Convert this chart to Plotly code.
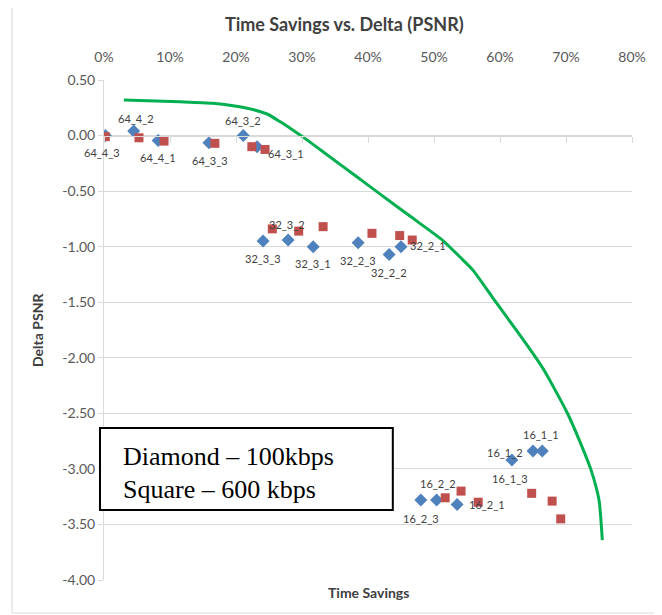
import plotly.graph_objects as go

# ---- data ----
diamond_names = ["64_4_3", "64_4_2", "64_4_1", "64_3_3", "64_3_2", "64_3_1",
                 "32_3_3", "32_3_2", "32_3_1", "32_2_3", "32_2_2", "32_2_1",
                 "16_1_3", "16_1_2", "16_1_1", "16_2_3", "16_2_2", "16_2_1"]
diamond_x = [0.002, 0.045, 0.082, 0.159, 0.211, 0.232,
             0.241, 0.279, 0.317, 0.385, 0.432, 0.450,
             0.618, 0.650, 0.664, 0.480, 0.504, 0.535]
diamond_y = [0.00, 0.04, -0.045, -0.065, 0.00, -0.10,
             -0.95, -0.94, -1.00, -0.965, -1.07, -1.00,
             -2.92, -2.84, -2.84, -3.28, -3.28, -3.32]

square_x = [0.002, 0.053, 0.091, 0.168, 0.224, 0.244,
            0.255, 0.295, 0.332, 0.406, 0.448, 0.467,
            0.517, 0.541, 0.567, 0.648, 0.679, 0.692]
square_y = [-0.01, -0.02, -0.05, -0.07, -0.10, -0.125,
            -0.84, -0.86, -0.82, -0.88, -0.90, -0.94,
            -3.26, -3.20, -3.30, -3.22, -3.29, -3.45]

curve_x = [0.030, 0.115, 0.165, 0.217, 0.247, 0.267, 0.286, 0.308, 0.340,
           0.380, 0.420, 0.464, 0.514, 0.539, 0.559, 0.589, 0.615, 0.641,
           0.665, 0.702, 0.722, 0.738, 0.750, 0.755]
curve_y = [0.320, 0.304, 0.290, 0.245, 0.194, 0.124, 0.050, -0.041, -0.182,
           -0.358, -0.534, -0.727, -0.947, -1.091, -1.211, -1.460, -1.672,
           -1.887, -2.095, -2.497, -2.768, -3.011, -3.281, -3.641]

x_tickvals = [0.0, 0.1, 0.2, 0.3, 0.4, 0.5, 0.6, 0.7, 0.8]
x_ticktext = ["0%", "10%", "20%", "30%", "40%", "50%", "60%", "70%", "80%"]
y_tickvals = [0.5, 0.0, -0.5, -1.0, -1.5, -2.0, -2.5, -3.0, -3.5, -4.0]
y_ticktext = ["0.50", "0.00", "-0.50", "-1.00", "-1.50", "-2.00",
              "-2.50", "-3.00", "-3.50", "-4.00"]

# label offsets (pixels) relative to each diamond
label_dx = [-3, 2, 0, 1, 0, 29, 0, -1, 0, 0, 0, 27, -2, -28, -1, 0, 1, 30]
label_dy = [-17, 13, -17, -18, 15, -7, -17, 16, -17, -18, -18, 1, -18, -1, 17, -18, 17, 0]

FONT = "Lato, 'Open Sans', sans-serif"
SERIF = "'Liberation Serif', 'Times New Roman', serif"
GRID = "#d9d9d9"
TXT = "#595959"

fig = go.Figure()

fig.add_trace(go.Scatter(
    x=curve_x, y=curve_y, mode="lines", xaxis="x2", yaxis="y",
    line=dict(color="#00b050", width=3, shape="spline", smoothing=0.6),
    hoverinfo="skip", showlegend=False))

fig.add_trace(go.Scatter(
    x=diamond_x, y=diamond_y, mode="markers", name="100kbps",
    marker=dict(symbol="diamond", size=10, color="#4f81bd"),
    showlegend=False))

fig.add_trace(go.Scatter(
    x=square_x, y=square_y, mode="markers", name="600kbps",
    marker=dict(symbol="square", size=9, color="#c0504d"),
    showlegend=False))

annotations = []
for name, x, y, dx, dy in zip(diamond_names, diamond_x, diamond_y, label_dx, label_dy):
    annotations.append(dict(x=x, y=y, xref="x", yref="y", text=name, showarrow=False,
                            xshift=dx, yshift=dy, yanchor="middle",
                            font=dict(family=FONT, size=11, color="#404040")))

annotations += [
    dict(text="<b>Time Savings vs. Delta (PSNR)</b>", x=0.456, y=1.112,
         xref="paper", yref="paper", showarrow=False, yanchor="middle",
         font=dict(family=FONT, size=18, color="#404040")),
    dict(text="<b>Time Savings</b>", x=0.5, y=-0.024, xref="paper", yref="paper",
         yanchor="middle", showarrow=False,
         font=dict(family=FONT, size=14, color="#404040")),
    dict(text="<b>Delta PSNR</b>", x=-0.127, y=0.5, xref="paper", yref="paper",
         xanchor="center", yanchor="middle",
         showarrow=False, textangle=-90,
         font=dict(family=FONT, size=14, color="#404040")),
    dict(text="Diamond – 100kbps", x=0.032, y=0.248,
         xref="paper", yref="paper", xanchor="left", yanchor="middle",
         showarrow=False, font=dict(family=SERIF, size=26, color="black")),
    dict(text="Square – 600 kbps", x=0.032, y=0.182,
         xref="paper", yref="paper", xanchor="left", yanchor="middle",
         showarrow=False, font=dict(family=SERIF, size=26, color="black")),
]

shapes = [
    dict(type="rect", xref="paper", yref="paper", x0=-0.1742, x1=1.0511,
         y0=-0.066, y1=1.15, line=dict(color=GRID, width=1), layer="below"),
    dict(type="rect", xref="paper", yref="paper", x0=-0.0076, x1=0.547,
         y0=0.14, y1=0.304, line=dict(color="black", width=2),
         fillcolor="white", layer="above"),
]

fig.update_layout(
    width=654, height=607,
    margin=dict(l=96, r=30, t=72, b=35),
    paper_bgcolor="white", plot_bgcolor="white",
    showlegend=False,
    xaxis=dict(range=[0, 0.8], side="top", tickvals=x_tickvals, ticktext=x_ticktext,
               showgrid=False, zeroline=False, showline=False, ticks="",
               ticklabelstandoff=14,
               tickfont=dict(family=FONT, size=14, color=TXT)),
    xaxis2=dict(range=[0, 0.8], overlaying="x", anchor="free", position=4/4.5,
                side="bottom", tickvals=x_tickvals, showticklabels=False,
                showgrid=False, zeroline=False, showline=True, linecolor=GRID,
                linewidth=1, ticks="outside", ticklen=6, tickcolor=GRID),
    yaxis=dict(range=[-4, 0.5], tickvals=y_tickvals, ticktext=y_ticktext,
               showgrid=True, gridcolor=GRID, gridwidth=1, zeroline=False,
               showline=True, linecolor=GRID, ticks="outside", ticklen=5,
               tickcolor=GRID, tickfont=dict(family=FONT, size=14, color=TXT)),
    annotations=annotations,
    shapes=shapes,
)

fig.write_html("out.html")
